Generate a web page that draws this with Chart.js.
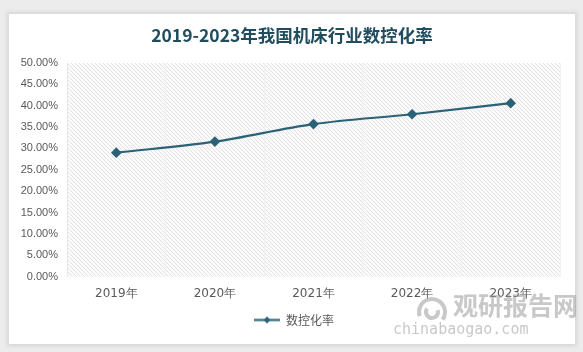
<!DOCTYPE html>
<html><head><meta charset="utf-8">
<script src="https://cdn.jsdelivr.net/npm/chart.js@4"></script>
<style>
html,body{margin:0;padding:0;background:#ececec;width:583px;height:352px;overflow:hidden;}
#card{position:absolute;left:9px;top:14px;width:566px;height:330px;background:#fff;box-shadow:0 0 4px 2px #d6d6d6;}
#c{position:absolute;left:0;top:0;}
</style></head>
<body>
<div id="card"></div>
<canvas id="c" width="583" height="352"></canvas>
<script>
const titleText = '2019-2023年我国机床行业数控化率';
const categories = ['2019年','2020年','2021年','2022年','2023年'];
const seriesName = '数控化率';
const values = [29.0, 31.6, 35.7, 38.0, 40.6];
const yTicks = [0,5,10,15,20,25,30,35,40,45,50];
const watermark = ['观研报告网','chinabaogao.com'];
const lineColor = '#2b6277';

function makePattern(){
  const p = document.createElement('canvas');
  p.width = 4; p.height = 4;
  const g = p.getContext('2d');
  g.fillStyle = '#fbfbfb'; g.fillRect(0,0,4,4);
  g.strokeStyle = '#e2e2e2'; g.lineWidth = 1;
  g.beginPath(); g.moveTo(0,0); g.lineTo(4,4); g.moveTo(-1,3); g.lineTo(1,5); g.moveTo(3,-1); g.lineTo(5,1); g.stroke();
  return g.createPattern(p,'repeat');
}
const pattern = makePattern();

function makeLegendIcon(){
  const c = document.createElement('canvas');
  c.width = 26; c.height = 9;
  const g = c.getContext('2d');
  g.strokeStyle = lineColor; g.lineWidth = 2.2;
  g.beginPath(); g.moveTo(0,4.5); g.lineTo(26,4.5); g.stroke();
  g.fillStyle = lineColor;
  g.beginPath(); g.moveTo(13,1); g.lineTo(16.5,4.5); g.lineTo(13,8); g.lineTo(9.5,4.5); g.closePath(); g.fill();
  return c;
}
const legendIcon = makeLegendIcon();

const bgPlugin = {
  id:'bg',
  afterLayout(chart){
    const lg = chart.legend;
    if (lg) { lg.left += 14; lg.right += 14; }
    const tb = chart.titleBlock;
    if (tb) { tb.left += 12; tb.right += 12; }
  },
  beforeDraw(chart){
    const {ctx, chartArea:a} = chart;
    ctx.save();
    ctx.fillStyle = pattern;
    ctx.fillRect(a.left, a.top, a.right-a.left, a.bottom-a.top);
    ctx.restore();
  },
  afterDraw(chart){
    const ctx = chart.ctx;
    ctx.save();
    ctx.globalAlpha = 0.55;
    ctx.fillStyle = '#9a9a9a';
    ctx.strokeStyle = '#9a9a9a';
    ctx.lineWidth = 4;
    ctx.beginPath(); ctx.arc(432, 312, 13, Math.PI*0.9, Math.PI*2.2); ctx.stroke();
    ctx.beginPath(); ctx.arc(432, 312, 6, Math.PI*1.9, Math.PI*3.2); ctx.stroke();
    ctx.font = 'bold 25px "Noto Sans CJK SC"';
    ctx.textAlign = 'left'; ctx.textBaseline = 'middle';
    ctx.fillText(watermark[0], 453, 305);
    ctx.font = '15px "DejaVu Sans Mono"';
    ctx.fillText(watermark[1], 393, 330);
    ctx.restore();
  }
};

new Chart(document.getElementById('c'), {
  type:'line',
  data:{
    labels: categories,
    datasets:[{
      label: seriesName,
      data: values,
      borderColor:lineColor,
      backgroundColor:lineColor,
      borderWidth:2.2,
      pointStyle:'rectRot',
      pointRadius:3.8,
      pointHoverRadius:3.8,
      cubicInterpolationMode:'monotone',
      fill:false
    }]
  },
  options:{
    responsive:false,
    animation:false,
    devicePixelRatio:1,
    layout:{padding:{left:0,right:23,top:0,bottom:16}},
    plugins:{
      title:{display:true,text:titleText,color:'#1f4d5e',font:{family:'"Noto Sans CJK SC"',size:17.5,weight:'bold'},padding:{top:25,bottom:17}},
      legend:{position:'bottom',labels:{color:'#595959',font:{family:'"Noto Sans CJK SC"',size:12},usePointStyle:true,pointStyleWidth:26,padding:3,
        generateLabels(chart){
          const l = Chart.defaults.plugins.legend.labels.generateLabels(chart);
          l.forEach(i=>{i.pointStyle=legendIcon;});
          return l;
        }}},
      tooltip:{enabled:false}
    },
    scales:{
      x:{
        offset:true,
        grid:{display:true,color:'#f1f1f1',drawTicks:false,offset:true},
        border:{display:false},
        ticks:{color:'#595959',font:{family:'"DejaVu Sans"',size:12},padding:10}
      },
      y:{
        min:0,max:50,
        afterBuildTicks(s){ s.ticks = yTicks.map(v=>({value:v})); },
        afterFit(s){ s.width = 67; },
        grid:{display:false,drawTicks:false},
        border:{display:true,color:'#e8e8e8'},
        ticks:{color:'#595959',font:{family:'"Liberation Sans"',size:11},padding:9,callback:v=>v.toFixed(2)+'%'}
      }
    }
  },
  plugins:[bgPlugin]
});
</script>
</body></html>
